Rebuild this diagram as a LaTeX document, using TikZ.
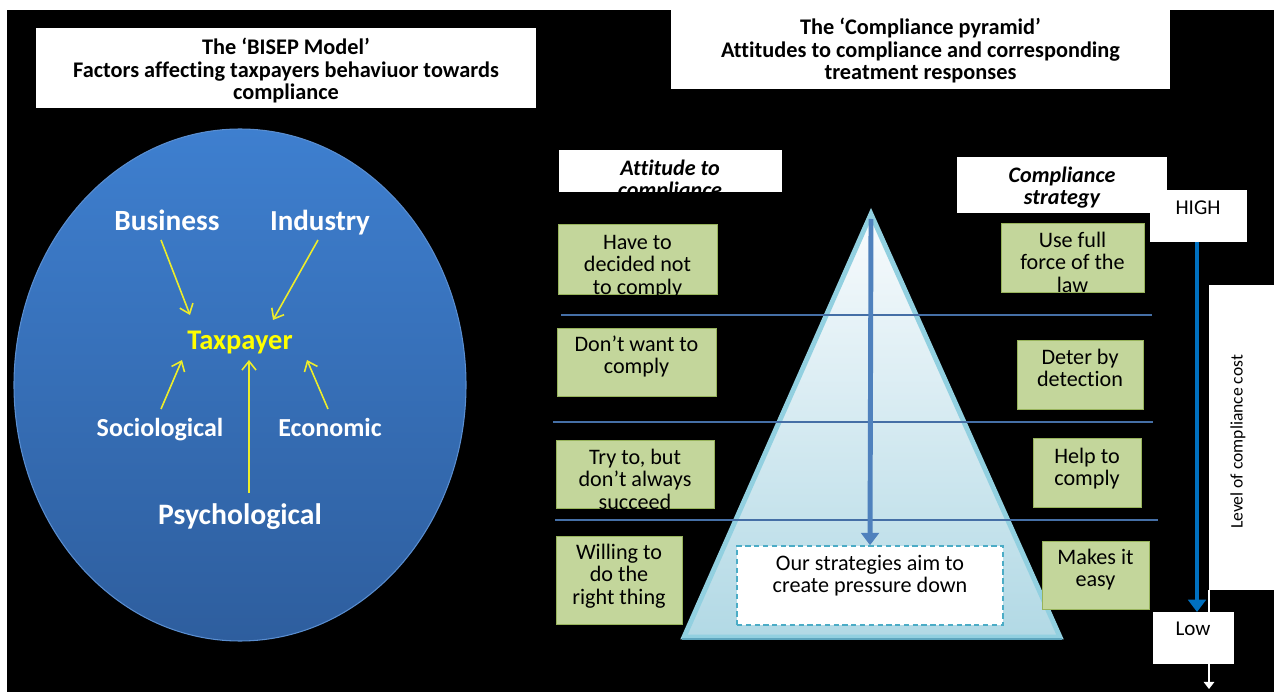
\documentclass[tikz,border=0pt]{standalone}
\usepackage{fontspec}
\setmainfont[Ligatures=NoCommon]{Carlito}
\usetikzlibrary{arrows.meta,fit,calc}

\definecolor{ovaltop}{HTML}{3E7FCF}
\definecolor{ovalbot}{HTML}{2E5E9E}
\definecolor{ovalrim}{HTML}{5A8ED0}
\definecolor{taxyellow}{HTML}{FFFF00}
\definecolor{arrowyellow}{HTML}{EDED2A}
\definecolor{boxgreen}{HTML}{C3D69B}
\definecolor{boxgreenrim}{HTML}{98B45C}
\definecolor{bandline}{HTML}{456FA6}
\definecolor{pyrrim}{HTML}{92D0E0}
\definecolor{pyrbase}{HTML}{5FA6BE}
\definecolor{pyrtop}{HTML}{F8FBFD}
\definecolor{pyrbot}{HTML}{B2D9E5}
\definecolor{pressblue}{HTML}{4F81BD}
\definecolor{costblue}{HTML}{0070C0}
\definecolor{dashteal}{HTML}{4BACC6}

% fixed first-line height so text blocks can be hung from their top edge
\newcommand{\tallstrut}{\rule{0pt}{0.75em}}

\begin{document}
\begin{tikzpicture}[x=0.02cm, y=-0.02cm,
  panel/.style={fill=white, draw=none, inner sep=0pt, outer sep=0pt},
  greenbox/.style={fill=boxgreen, draw=boxgreenrim, line width=0.5pt, inner sep=0pt, outer sep=0pt},
  boxtext/.style={anchor=north, inner sep=0pt, align=center, text=black,
    font=\fontsize{12.6}{12.8}\selectfont},
  titletext/.style={anchor=north, inner sep=0pt, align=center, text=black,
    font=\bfseries\fontsize{12.7}{12.8}\selectfont},
  headtext/.style={anchor=north, inner sep=0pt, align=center, text=black,
    font=\bfseries\itshape\fontsize{12.6}{12.8}\selectfont},
  factor/.style={inner sep=0pt, text=white, text height=13.6pt, text depth=3.4pt},
  feed/.style={draw=arrowyellow, line width=0.9pt, -{Straight Barb[length=5pt,width=8pt]}},
  band/.style={draw=bandline, line width=0.75pt},
  scalelabel/.style={inner sep=0pt, text=black, text height=7.7pt, text depth=0pt,
    font=\fontsize{12}{14}\selectfont}
]
\useasboundingbox (0,0) rectangle (1274,692);
\fill[white] (0,0) rectangle (1274,692);
\fill[black] (7,10) rectangle (1274,692);

% ---------- BISEP model ----------
\node[panel, fit={(36,28) (536,108)}] (bisep) {};
\node[titletext] at (286,37.5) {\tallstrut The ‘BISEP Model’\\Factors affecting taxpayers behaviuor towards\\compliance};

\path[top color=ovaltop, bottom color=ovalbot, draw=ovalrim, line width=0.6pt]
  (240,385) ellipse [x radius=226, y radius=256];

\node[factor, font=\bfseries\fontsize{16.7}{18}\selectfont] (bus) at (167,222) {Business};
\node[factor, font=\bfseries\fontsize{16.5}{18}\selectfont] (ind) at (320,222) {Industry};
\node[factor, text=taxyellow, font=\bfseries\fontsize{16.2}{18}\selectfont] (tax) at (240,341) {Taxpayer};
\node[factor, font=\bfseries\fontsize{14.8}{17}\selectfont] (soc) at (160,428) {Sociological};
\node[factor, font=\bfseries\fontsize{14.8}{17}\selectfont] (eco) at (330,428) {Economic};
\node[factor, font=\bfseries\fontsize{16.9}{19}\selectfont] (psy) at (240,516) {Psychological};

\draw[feed] ($(bus.center)+(-6,18)$) -- ($(tax.center)+(-50,-26)$);
\draw[feed] ($(ind.center)+(-2,18)$) -- ($(tax.center)+(33,-21)$);
\draw[feed] ($(soc.center)+(1,-19)$) -- ($(tax.center)+(-58,19)$);
\draw[feed] ($(eco.center)+(-2,-19)$) -- ($(tax.center)+(67,19)$);
\draw[feed] ($(psy.center)+(9,-23)$) -- ($(tax.center)+(9,19)$);

% ---------- Compliance pyramid ----------
\node[panel, fit={(671,10) (1170,89)}] (pyrtitle) {};
\node[titletext] at (920.5,17.5) {\tallstrut The ‘Compliance pyramid’\\Attitudes to compliance and corresponding\\treatment responses};

\node[panel, fit={(559,150) (782,192)}] (atthead) {};
\node[headtext] at (670,158.5) {\tallstrut Attitude to\\compliance};

\node[panel, fit={(957,157) (1167,213)}] (strathead) {};
\node[headtext] at (1062,165.5) {\tallstrut Compliance\\strategy};

% pyramid body
\coordinate (apex) at (871,208);
\coordinate (baseL) at (684,637);
\coordinate (baseR) at (1060,637);
\path[top color=pyrtop, bottom color=pyrbot, draw=pyrrim, line width=2.8pt, line join=miter]
  ($(apex)+(0,6)$) -- (baseR) -- (baseL) -- cycle;
\draw[pyrbase, line width=1.2pt] ($(baseL)+(-2,2)$) -- ($(baseR)+(2,2)$);

% band separators
\draw[band] (561,315) -- (1152,315);
\draw[band] (553,422) -- (1153,422);
\draw[band] (555,520) -- (1158,520);

% pressure box and arrow
\node[fill=white, draw=dashteal, dash pattern=on 3pt off 2pt, line width=0.9pt,
  inner sep=0pt, fit={(737,546) (1003,625)}] (dbox) {};
\node[boxtext] at (870,553.5) {\tallstrut Our strategies aim to\\create pressure down};
\draw[pressblue, line width=2.8pt, -{Triangle[length=7pt,width=10pt]}]
  ($(apex)+(0,11)$) -- (dbox.north);

% attitudes
\node[greenbox, fit={(558,224) (717,294)}] (att1) {};
\node[boxtext] at (637.5,232.5) {\tallstrut Have to\\decided not\\to comply};
\node[greenbox, fit={(557,328) (716,396)}] (att2) {};
\node[boxtext] at (636.5,334.5) {\tallstrut Don’t want to\\comply};
\node[greenbox, fit={(556,440) (714,508)}] (att3) {};
\node[boxtext] at (635,447.5) {\tallstrut Try to, but\\don’t always\\succeed};
\node[greenbox, fit={(556,536) (682,624)}] (att4) {};
\node[boxtext] at (619,542.5) {\tallstrut Willing to\\do the\\right thing};

% strategies
\node[greenbox, fit={(1001,223) (1144,292)}] (str1) {};
\node[boxtext] at (1072.5,230.5) {\tallstrut Use full\\force of the\\law};
\node[greenbox, fit={(1017,340) (1143,409)}] (str2) {};
\node[boxtext] at (1080,347.5) {\tallstrut Deter by\\detection};
\node[greenbox, fit={(1033,438) (1141,507)}] (str3) {};
\node[boxtext] at (1087,446.5) {\tallstrut Help to\\comply};
\node[greenbox, fit={(1042,541) (1149,609)}] (str4) {};
\node[boxtext] at (1095.5,547.5) {\tallstrut Makes it\\easy};

% ---------- compliance cost scale ----------
\node[panel, fit={(1209,285) (1274,590)}] (level) {};
\node[inner sep=0pt, rotate=90, text height=6.4pt, text depth=0pt,
  font=\fontsize{10}{12}\selectfont] at (1237,442) {Level of compliance cost};
\coordinate (scaleend) at (1209,689);
\draw[white, line width=0.6pt, -{Triangle[length=4pt,width=6pt]}] (level.south west) -- (scaleend);

\node[panel, fit={(1150,190) (1247,242)}] (high) {};
\node[scalelabel] at (1198,208) {HIGH};
\node[panel, fit={(1153,612) (1234,664)}] (low) {};
\node[scalelabel] at (1193,629) {Low};
\draw[costblue, line width=2.8pt, -{Triangle[length=7pt,width=10pt]}]
  ($(high.south)+(-1.5,0)$) -- ($(high.south |- low.north)+(-1.5,0)$);
\end{tikzpicture}
\end{document}
